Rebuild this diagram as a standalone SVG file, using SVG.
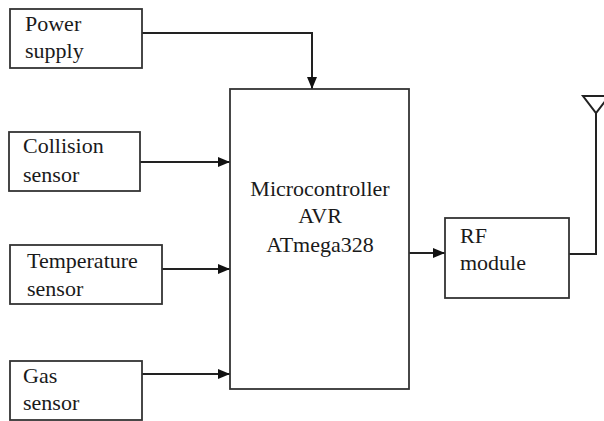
<svg xmlns="http://www.w3.org/2000/svg" width="604" height="421" viewBox="0 0 604 421">
<style>
.box{fill:#fff;stroke:#333;stroke-width:1.8}
.t{font-family:"Times New Roman",Times,"Liberation Serif","DejaVu Serif","Noto Serif",serif;font-size:22px;fill:#1a1a1a}
.c{stroke:#222;stroke-width:2;fill:none}
</style>
<defs>
<marker id="ah" viewBox="0 0 12 10" refX="12" refY="5" markerWidth="12" markerHeight="10" markerUnits="userSpaceOnUse" orient="auto">
<path d="M0,0 L12,5 L0,10 z" fill="#111"/>
</marker>
</defs>
<rect width="604" height="421" fill="#fff"/>
<g id="connectors">
<path class="c" d="M142,33 H312 V89" marker-end="url(#ah)"/>
<path class="c" d="M140,162 H230" marker-end="url(#ah)"/>
<path class="c" d="M162,269 H230" marker-end="url(#ah)"/>
<path class="c" d="M142,374 H230" marker-end="url(#ah)"/>
<path class="c" d="M409,253 H445" marker-end="url(#ah)"/>
<path class="c" d="M563,254 H596 V113" stroke-width="1.6"/>
<path class="c" d="M583,96 L609,96 L596,113 Z" stroke-width="1.4"/>
</g>
<g id="power">
<rect class="box" x="10" y="9" width="132" height="59"/>
<text class="t" x="25" y="31">Power</text>
<text class="t" x="25" y="58">supply</text>
</g>
<g id="collision">
<rect class="box" x="9" y="132" width="131" height="59"/>
<text class="t" x="23" y="153">Collision</text>
<text class="t" x="23" y="182">sensor</text>
</g>
<g id="temperature">
<rect class="box" x="10" y="245" width="152" height="59"/>
<text class="t" x="27" y="268">Temperature</text>
<text class="t" x="27" y="296">sensor</text>
</g>
<g id="gas">
<rect class="box" x="10" y="361" width="132" height="59"/>
<text class="t" x="23" y="383">Gas</text>
<text class="t" x="23" y="410">sensor</text>
</g>
<g id="mcu">
<rect class="box" x="230" y="89" width="179" height="300"/>
<text class="t" x="320" y="196" text-anchor="middle">Microcontroller</text>
<text class="t" x="320" y="223" text-anchor="middle">AVR</text>
<text class="t" x="320" y="252" text-anchor="middle">ATmega328</text>
</g>
<g id="rf">
<rect class="box" x="445" y="218" width="124" height="80"/>
<text class="t" x="460" y="243">RF</text>
<text class="t" x="460" y="270">module</text>
</g>
</svg>
